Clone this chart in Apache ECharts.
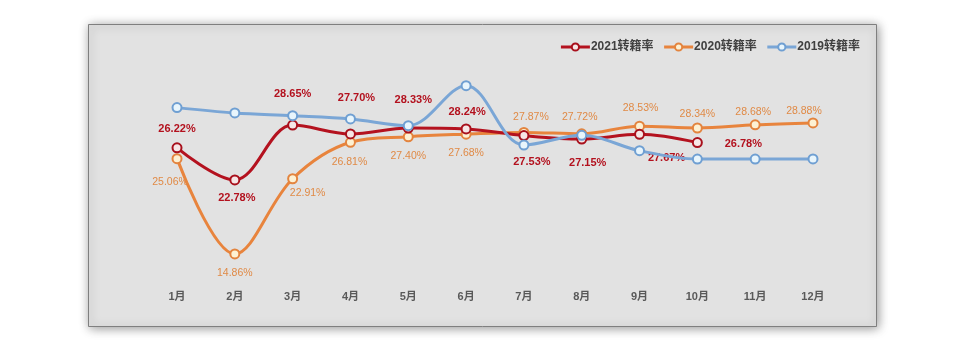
<!DOCTYPE html>
<html>
<head>
<meta charset="utf-8">
<script src="https://cdn.jsdelivr.net/npm/echarts@6/dist/echarts.min.js"></script>
<style>
  html, body { margin: 0; padding: 0; background: #ffffff; }
  #chart { width: 960px; height: 344px; }
</style>
</head>
<body>
<div id="chart"></div>
<script>
// Monthly transfer-registration rates, by year
const months = ['1月', '2月', '3月', '4月', '5月', '6月', '7月', '8月', '9月', '10月', '11月', '12月'];
const rate2021 = [26.22, 22.78, 28.65, 27.70, 28.33, 28.24, 27.53, 27.15, 27.67, 26.78];
const rate2020 = [25.06, 14.86, 22.91, 26.81, 27.40, 27.68, 27.87, 27.72, 28.53, 28.34, 28.68, 28.88];
const rate2019 = [30.52, 29.95, 29.66, 29.31, 28.59, 32.87, 26.52, 27.56, 25.91, 25.02, 25.02, 25.03];
const seriesNames = ['2021转籍率', '2020转籍率', '2019转籍率'];

// Label nudges (px, relative to each marker centre) so value tags avoid the lines
const offsets2021 = [[0, -19], [2, 18], [0, -31], [6, -36], [5, -28], [1, -17], [8, 26], [6, 24], [27, 24], [46, 1]];
const offsets2020 = [[-7, 23], [0, 19], [15, 14], [-1, 20], [0, 19], [0, 19], [7, -15], [-2, -17], [1, -18], [0, -14], [-2, -13], [-9, -12]];

const FONT = '"Liberation Sans", "Noto Sans CJK SC", sans-serif';

function labelled(values, offsets) {
  return values.map((v, i) => ({
    value: v,
    label: { offset: offsets[i] }
  }));
}

const chart = echarts.init(document.getElementById('chart'), null, { renderer: 'canvas' });

chart.setOption({
  backgroundColor: '#ffffff',
  animation: false,
  graphic: [{
    type: 'rect',
    z: -10,
    silent: true,
    shape: { x: 88.5, y: 24.5, width: 788, height: 302 },
    style: {
      fill: '#e2e2e2',
      stroke: '#7f7f7f',
      lineWidth: 1,
      shadowBlur: 10,
      shadowColor: 'rgba(0,0,0,0.4)',
      shadowOffsetX: 1,
      shadowOffsetY: 1
    }
  }],
  legend: {
    top: 36,
    right: 95,
    itemWidth: 29,
    itemHeight: 9,
    itemGap: 9,
    data: seriesNames,
    lineStyle: { width: 3 },
    textStyle: { fontFamily: FONT, fontSize: 12, fontWeight: 'bold', color: '#404040', padding: [0, 0, 0, -4] }
  },
  grid: { left: 148.1, right: 118.1, top: 75.1, bottom: 63.3, containLabel: false },
  xAxis: {
    type: 'category',
    data: months,
    boundaryGap: true,
    axisLine: { show: false },
    axisTick: { show: false },
    axisLabel: { margin: 11, fontFamily: FONT, fontSize: 11, fontWeight: 'bold', color: '#595959' }
  },
  yAxis: {
    type: 'value',
    min: 12,
    max: 34,
    show: false,
    splitLine: { show: false }
  },
  series: [
    {
      name: seriesNames[0],
      type: 'line',
      z: 4,
      smooth: 0.35,
      data: labelled(rate2021, offsets2021),
      symbol: 'circle',
      symbolSize: 9,
      lineStyle: { color: '#b4121f', width: 3 },
      itemStyle: { color: '#f6e6e6', borderColor: '#a8101c', borderWidth: 2 },
      label: {
        show: true,
        position: 'inside',
        formatter: p => p.value.toFixed(2) + '%',
        fontFamily: FONT,
        fontSize: 11,
        fontWeight: 'bold',
        color: '#b3111e'
      }
    },
    {
      name: seriesNames[1],
      type: 'line',
      z: 3,
      smooth: 0.35,
      data: labelled(rate2020, offsets2020),
      symbol: 'circle',
      symbolSize: 9,
      lineStyle: { color: '#e8843d', width: 3 },
      itemStyle: { color: '#fdf1d3', borderColor: '#e3843e', borderWidth: 2 },
      label: {
        show: true,
        position: 'inside',
        formatter: p => p.value.toFixed(2) + '%',
        fontFamily: FONT,
        fontSize: 10.5,
        color: '#e08a46'
      }
    },
    {
      name: seriesNames[2],
      type: 'line',
      z: 5,
      smooth: 0.35,
      data: rate2019,
      symbol: 'circle',
      symbolSize: 9,
      lineStyle: { color: '#7aa6d6', width: 3 },
      itemStyle: { color: '#e8f5fc', borderColor: '#6f9fd2', borderWidth: 2 },
      label: { show: false }
    }
  ]
});
</script>
</body>
</html>
